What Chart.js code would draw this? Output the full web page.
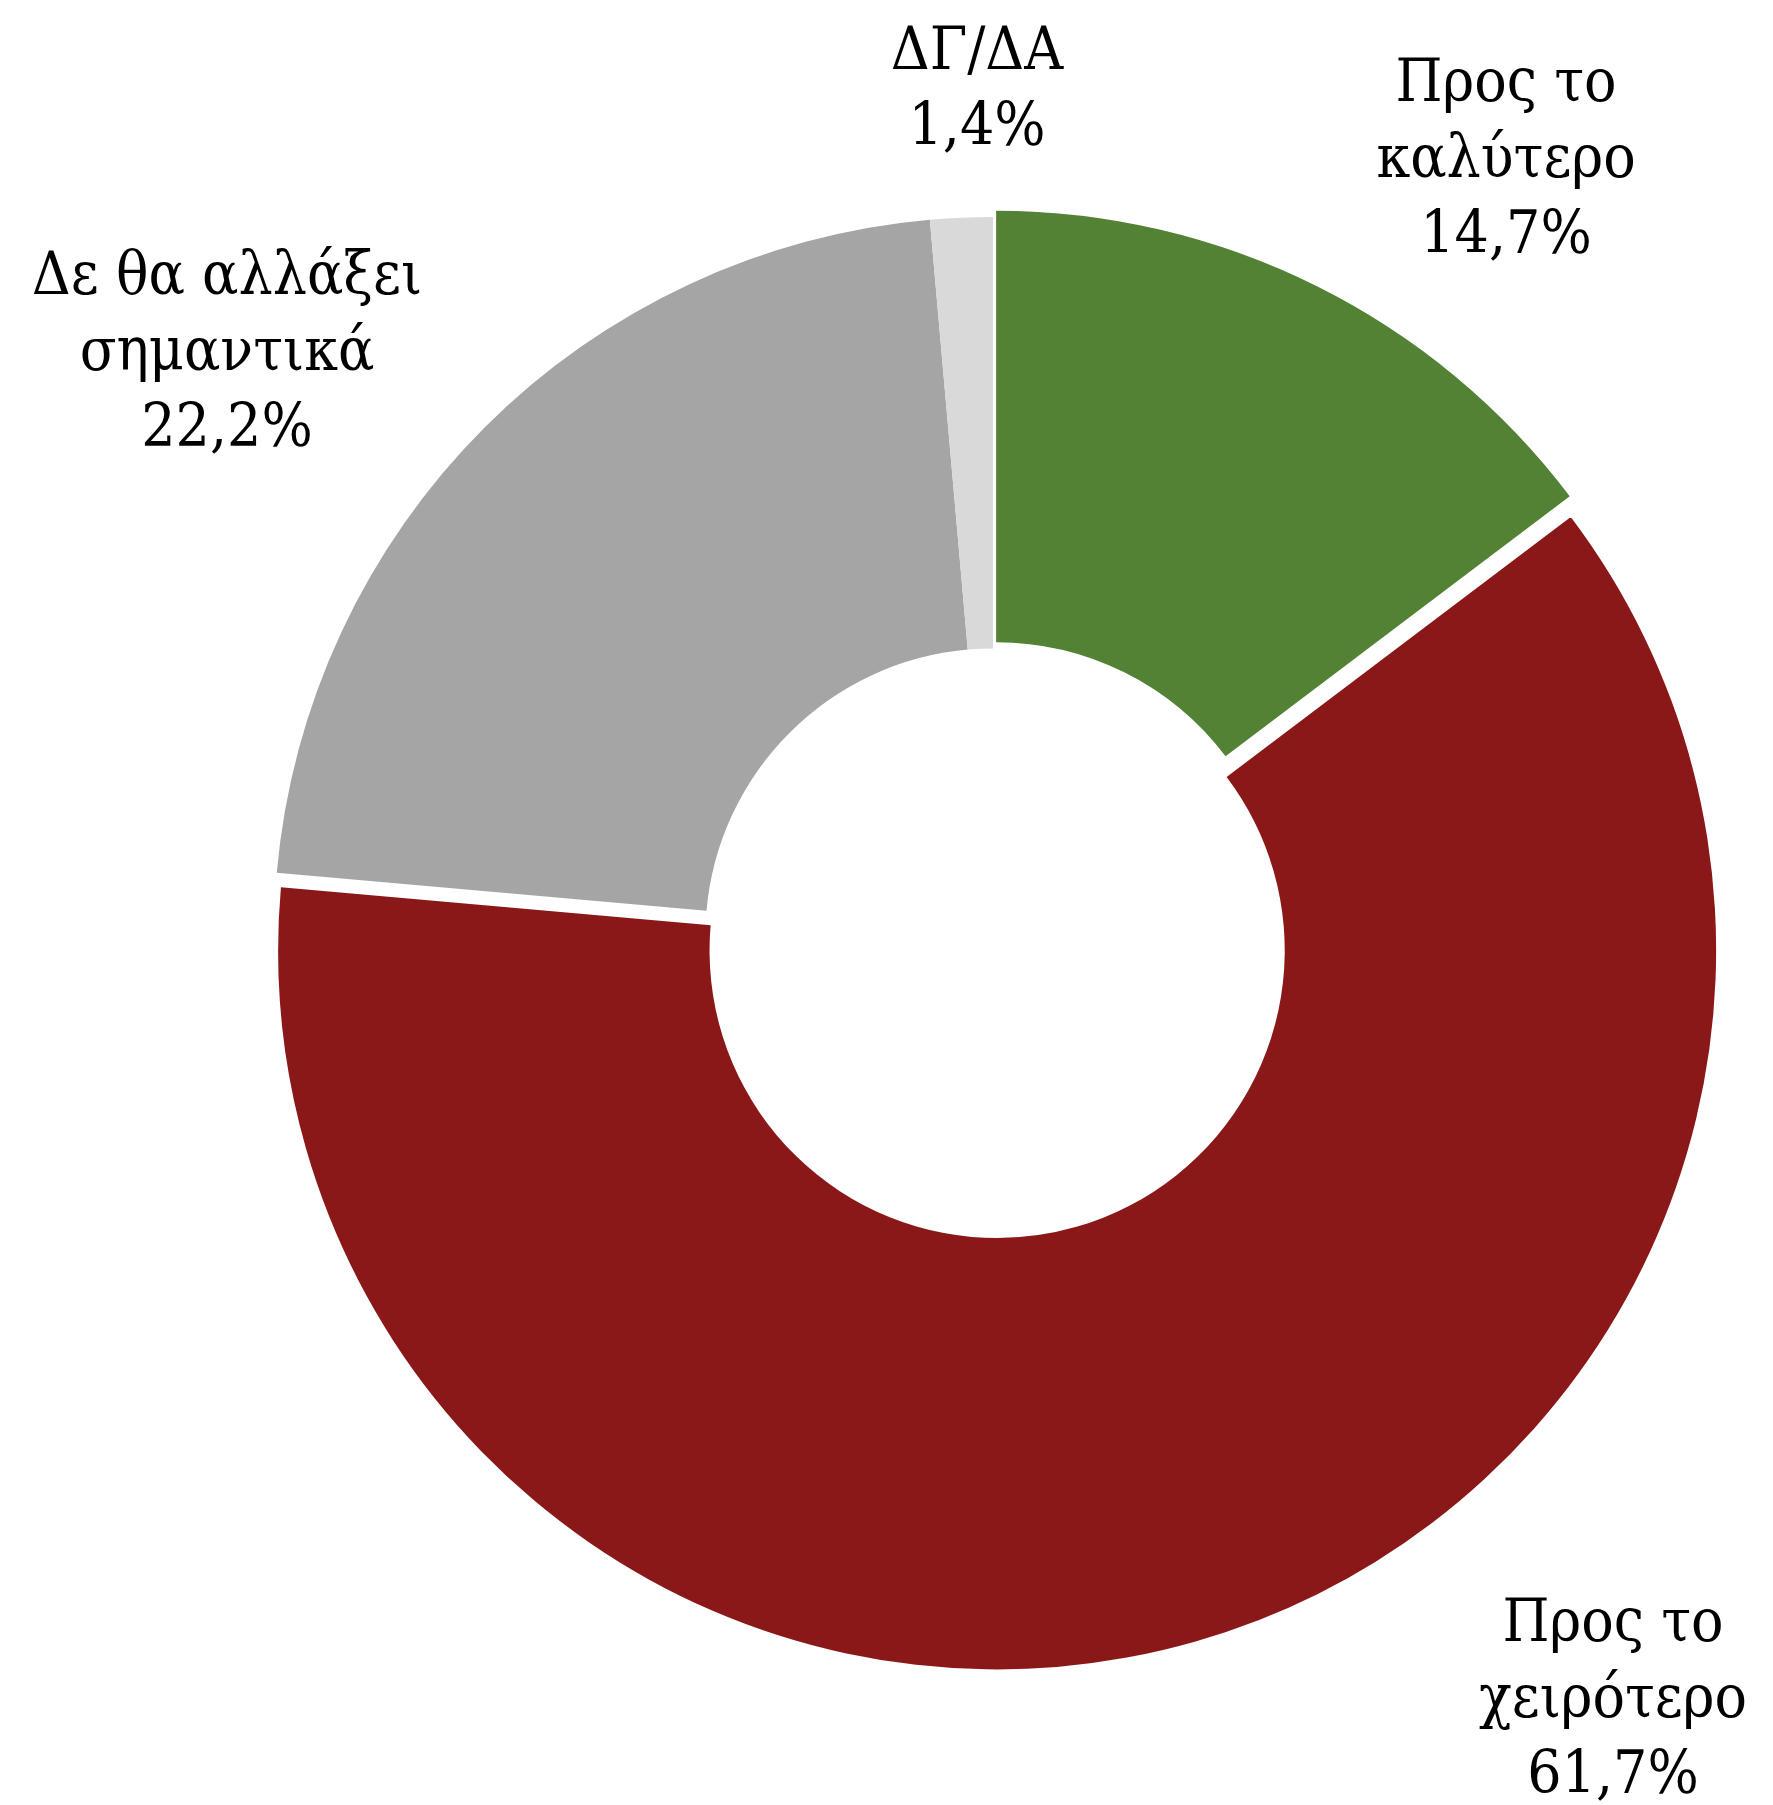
<!DOCTYPE html>
<html lang="el">
<head>
<meta charset="utf-8">
<title>Προσδοκίες</title>
<script src="https://cdn.jsdelivr.net/npm/chart.js@4.4.1/dist/chart.umd.min.js"></script>
<style>
  html, body { margin: 0; padding: 0; background: #fff; }
  #wrap { position: relative; width: 1773px; height: 1805px; }
</style>
</head>
<body>
<div id="wrap"><canvas id="pie"></canvas></div>
<script>
// categories (label lines) and values, clockwise from 12 o'clock
const categories = [
  ['Προς το', 'καλύτερο'],
  ['Προς το', 'χειρότερο'],
  ['Δε θα αλλάξει', 'σημαντικά'],
  ['ΔΓ/ΔΑ']
];
const shares = [14.7, 61.7, 22.2, 1.4];
const sliceColors = ['#548235', '#8b1818', '#a5a5a5', '#d9d9d9'];

// exploded slices (px pulled out along the slice's mid angle)
const sliceShift = [7, 15, 0, 0];
// label anchors relative to the pie centre: [dx, baseline of first line]
const labelAnchors = [[513, -835], [620, 705], [-766, -642], [-16, -867]];
const LINE_H = 76;
const LABEL_FONT = '60px "DejaVu Serif Condensed", "DejaVu Serif", serif';

const fmt = v => v.toFixed(1).replace('.', ',') + '%';

// draws each arc itself so exploded slices keep their radius
const shiftPlugin = {
  id: 'shiftSlices',
  beforeDatasetDraw(chart, args) {
    const ctx = chart.ctx;
    args.meta.data.forEach((arc, i) => {
      const s = sliceShift[i] || 0;
      const mid = (arc.startAngle + arc.endAngle) / 2;
      ctx.save();
      ctx.translate(Math.cos(mid) * s, Math.sin(mid) * s);
      arc.draw(ctx, chart.chartArea);
      ctx.restore();
    });
    return false;
  }
};

const labelPlugin = {
  id: 'outsideLabels',
  afterDraw(chart) {
    const ctx = chart.ctx;
    const arc0 = chart.getDatasetMeta(0).data[0];
    const cx = arc0.x, cy = arc0.y;
    ctx.save();
    ctx.font = LABEL_FONT;
    ctx.fillStyle = '#000';
    ctx.textAlign = 'center';
    ctx.textBaseline = 'alphabetic';
    categories.forEach((lines, i) => {
      const all = lines.concat([fmt(shares[i])]);
      const [dx, dy] = labelAnchors[i];
      all.forEach((t, k) => ctx.fillText(t, cx + dx, cy + dy + k * LINE_H));
    });
    ctx.restore();
  }
};

new Chart(document.getElementById('pie'), {
  type: 'doughnut',
  data: {
    labels: categories.map(c => c.join(' ')),
    datasets: [{
      data: shares,
      backgroundColor: sliceColors,
      borderWidth: 0
    }]
  },
  options: {
    responsive: true,
    maintainAspectRatio: false,
    animation: false,
    events: [],
    radius: 719,
    cutout: '40%',
    layout: { padding: { left: 213, top: 67, right: 0, bottom: 0 } },
    plugins: {
      legend: { display: false },
      tooltip: { enabled: false }
    }
  },
  plugins: [shiftPlugin, labelPlugin]
});
</script>
</body>
</html>
